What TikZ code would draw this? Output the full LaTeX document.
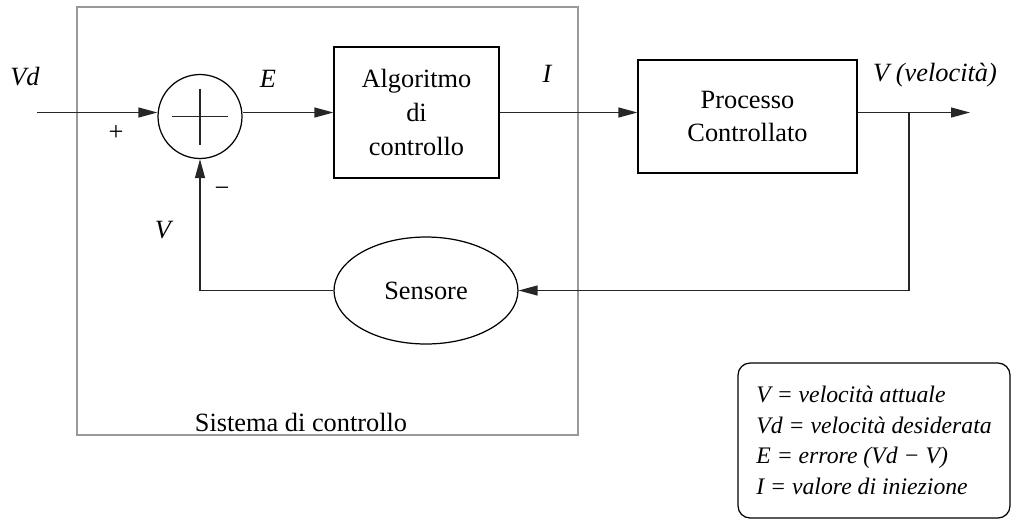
\documentclass[tikz,border=0pt]{standalone}
\usepackage{fontspec}
\setmainfont{Liberation Serif}
\usepackage{tikz}
\usetikzlibrary{arrows.meta,shapes.geometric,calc}
\tikzset{%
  signal directed/.style={%
    draw=black!85,
    line width=0.7pt,
    -{Triangle[length=0.38cm,width=0.2cm]}
  }
}
\tikzset{%
  signal plain/.style={%
    draw=black!85,
    line width=0.7pt
  }
}
\tikzset{%
  block/.style={%
    draw,
    line width=0.7pt,
    inner sep=0pt,
    align=center
  }
}

\begin{document}
\begin{tikzpicture}[x=0.02cm, y=-0.02cm, font=\fontsize{15}{19.3}\selectfont]
  \useasboundingbox (0,0) rectangle (1013,529);
  \draw [black!40, line width=0.8pt] (77,7) rectangle (578,435);
  \node (sys) at (301,422) {Sistema di controllo};
  \node [block, circle, minimum size=1.68cm] (sum) at (200,116.5) {};
  \draw [signal plain] ($(sum)+(-28,0)$) -- ($(sum)+(28,0)$);
  \draw [signal plain] ($(sum)+(0,-28)$) -- ($(sum)+(0,28)$);
  \node [block, minimum width=3.3cm, minimum height=2.62cm] (alg) at (416.5,112.5) {Algoritmo\\di\\controllo};
  \node [block, minimum width=4.38cm, minimum height=2.26cm] (proc) at (747.5,116.5) {Processo\\Controllato};
  \node [block, ellipse, minimum width=3.68cm, minimum height=2.14cm] (sens) at (426,290.5) {Sensore};
  \coordinate (vdin) at (37,112.5);
  \coordinate (tap) at (909,112.5);
  \coordinate (vout) at (970,112.5);
  \draw [signal directed] (vdin) -- (vdin -| sum.west);
  \draw [signal directed] (sum.east |- vdin) -- (alg.west |- vdin);
  \draw [signal directed] (alg.east |- vdin) -- (proc.west |- vdin);
  \draw [signal directed] (proc.east |- vdin) -- (vout);
  \draw [signal directed] (tap) |- (sens.east);
  \draw [signal directed] (sens.west) -| (sum.south);
  \node (vdlbl) at (25,77) {\itshape Vd};
  \node (plus) at (116,133) {+};
  \node (elbl) at (268,79) {\itshape E};
  \node (ilbl) at (547,74) {\itshape I};
  \node (vlbl) at (935,75) {\itshape V (velocità)};
  \node (minus) at (222,192) {−};
  \node (fblbl) at (163,230) {\itshape V};
  \node [draw, line width=0.7pt, rounded corners=0.24cm, minimum width=5.44cm, minimum height=3.1cm, align=left, font=\fontsize{13.5}{17.4}\selectfont\itshape] (legenda) at (874,440.5) {V = velocità attuale\\Vd = velocità desiderata\\E = errore (Vd − V)\\I = valore di iniezione};
\end{tikzpicture}
\end{document}
